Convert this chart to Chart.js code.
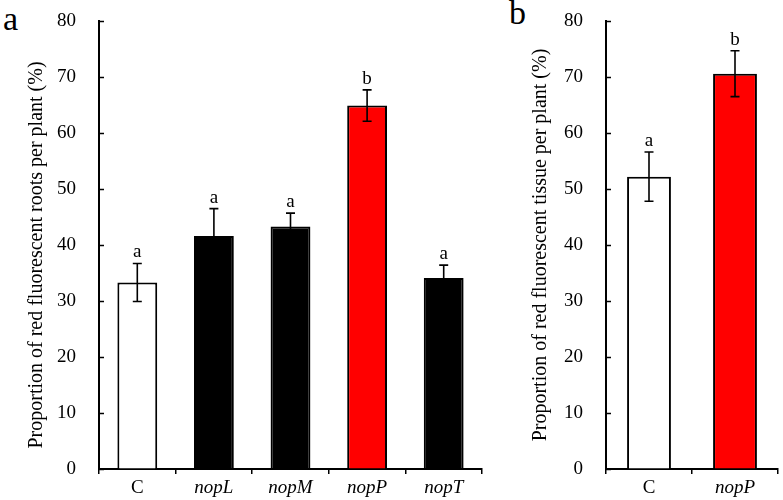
<!DOCTYPE html>
<html>
<head>
<meta charset="utf-8">
<script src="https://cdn.jsdelivr.net/npm/chart.js@4.4.0/dist/chart.umd.min.js"></script>
<style>
  html, body { margin: 0; padding: 0; background: #fff; }
  #wrap { position: relative; width: 783px; height: 500px; overflow: hidden; font-family: "Liberation Serif", serif; }
  .box { position: absolute; top: 0; height: 500px; }
  .panel { position: absolute; font-size: 34px; line-height: 1; color: #000; }
</style>
</head>
<body>
<div id="wrap">
  <div class="panel" style="left:3px; top:2px;">a</div>
  <div class="panel" style="left:509px; top:-4px;">b</div>
  <div class="box" style="left:0; width:490px;"><canvas id="chartA"></canvas></div>
  <div class="box" style="left:520px; width:263px;"><canvas id="chartB"></canvas></div>
</div>
<script>
// panel a data
const categoriesA = ["C", "nopL", "nopM", "nopP", "nopT"]
const meansA = [33.3, 41.6, 43.3, 64.9, 34.1]
const errorsA = [3.4, 4.9, 2.4, 2.8, 2.3]
const lettersA = ["a", "a", "a", "b", "a"]

// panel b data
const categoriesB = ["C", "nopP"]
const meansB = [52.2, 70.6]
const errorsB = [4.4, 4.1]
const lettersB = ["a", "b"]

const yTicks = [0, 10, 20, 30, 40, 50, 60, 70, 80]

const fillFor = {C: "#ffffff", nopP: "#ff0000"}
const serif = "'Liberation Serif', 'Times New Roman', serif"

// error bars, significance letters and inward y ticks
const extras = {
    id: "extras",
    afterDatasetsDraw(chart, args, opts){
        const ctx = chart.ctx
        const x = chart.scales.x
        const y = chart.scales.y
        ctx.save()
        ctx.strokeStyle = "#000"
        ctx.lineWidth = 1.6
        opts.means.forEach((m, i)=>{
            const cx = x.getPixelForValue(i)
            const top = y.getPixelForValue(m + opts.errors[i])
            const bot = y.getPixelForValue(m - opts.errors[i])
            ctx.beginPath()
            ctx.moveTo(cx, top); ctx.lineTo(cx, bot)
            ctx.moveTo(cx - 4.5, top); ctx.lineTo(cx + 4.5, top)
            ctx.moveTo(cx - 4.5, bot); ctx.lineTo(cx + 4.5, bot)
            ctx.stroke()
            ctx.fillStyle = "#000"
            ctx.font = "19px " + serif
            ctx.textAlign = "center"
            ctx.textBaseline = "alphabetic"
            ctx.fillText(opts.letters[i], cx, top - 6)
        })
        // ticks on the inside of the y axis
        ctx.lineWidth = 1.5
        y.ticks.forEach(t=>{
            const py = Math.round(y.getPixelForValue(t.value)) + 0.5
            ctx.beginPath()
            ctx.moveTo(y.right, py); ctx.lineTo(y.right + 5, py)
            ctx.stroke()
        })
        ctx.restore()
    }
}

function makeChart(id, cats, means, errors, letters, title, padLeft, yWidth, padRight, barPct){
    const ctx = document.querySelector(id).getContext("2d")
    return new Chart(ctx, {
        type: "bar",
        data: {
            labels: cats,
            datasets: [{
                data: means,
                backgroundColor: cats.map(c => fillFor[c] || "#000000"),
                borderColor: "#000",
                borderWidth: 2,
                borderSkipped: "bottom",
                categoryPercentage: 1,
                barPercentage: barPct
            }]
        },
        options: {
            responsive: true,
            maintainAspectRatio: false,
            animation: false,
            layout: { padding: { top: 21, right: padRight, left: padLeft, bottom: 0 } },
            plugins: {
                legend: { display: false },
                tooltip: { enabled: false },
                extras: { means: means, errors: errors, letters: letters }
            },
            scales: {
                x: {
                    grid: { drawOnChartArea: false, drawTicks: true, tickLength: 5, color: "#000", lineWidth: 1.5, offset: true },
                    border: { display: true, color: "#000", width: 2 },
                    ticks: {
                        color: "#000",
                        padding: 3,
                        font: (c) => ({ family: serif, size: 19, style: (cats[c.index] === "C") ? "normal" : "italic" })
                    },
                    afterFit: (s) => { s.height = 31 }
                },
                y: {
                    min: 0,
                    max: 80,
                    afterBuildTicks: (s) => { s.ticks = yTicks.map(v => ({ value: v })) },
                    // invisible tick marks keep the labels away from the axis
                    grid: { drawOnChartArea: false, drawTicks: true, tickLength: 23, color: "rgba(0,0,0,0)" },
                    border: { display: true, color: "#000", width: 2 },
                    ticks: { color: "#000", padding: 0, font: { family: serif, size: 19 } },
                    title: { display: true, text: title, color: "#000", font: { family: serif, size: 20 }, padding: { top: 0, bottom: 0 } },
                    afterFit: (s) => { s.width = yWidth }
                }
            }
        },
        plugins: [extras]
    })
}

// trailing spaces nudge the left title a little lower, as in the figure
makeChart("#chartA", categoriesA, meansA, errorsA, lettersA,
    "Proportion of red fluorescent roots per plant (%)    ", 25, 74, 8, 0.52)
makeChart("#chartB", categoriesB, meansB, errorsB, lettersB,
    "Proportion of red fluorescent tissue per plant (%)", 9, 77, 5, 0.51)
</script>
</body>
</html>
